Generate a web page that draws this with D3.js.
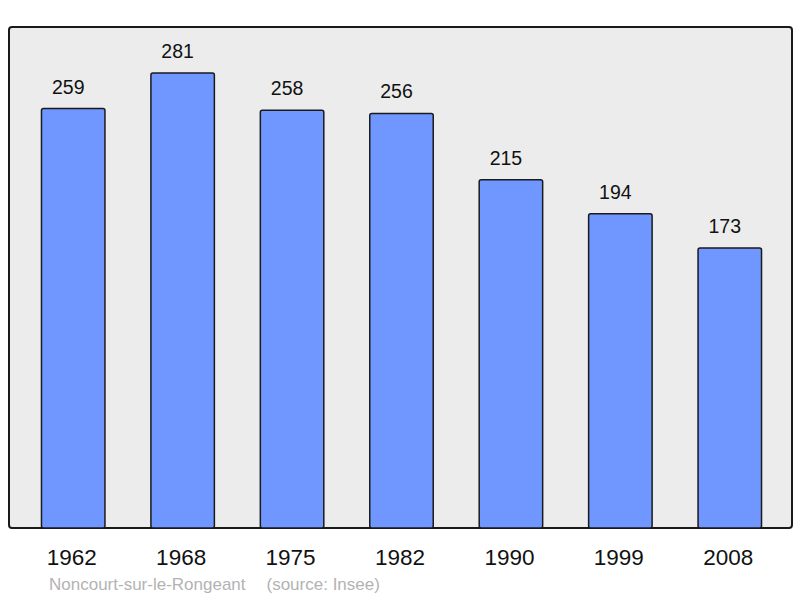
<!DOCTYPE html>
<html><head><meta charset="utf-8">
<script src="https://cdn.jsdelivr.net/npm/d3@7"></script>
<style>body{margin:0;background:#fff}svg{display:block}</style>
</head><body>
<script>
const years = ["1962","1968","1975","1982","1990","1999","2008"];
const population = [259,281,258,256,215,194,173];
const footerName = "Noncourt-sur-le-Rongeant";
const footerSource = "(source: Insee)";

const W = 800, H = 598;
const svg = d3.select("body").append("svg").attr("width", W).attr("height", H);
const font = "Liberation Sans, Arial, sans-serif";

// panel
svg.append("rect").attr("x", 9).attr("y", 27).attr("width", 783).attr("height", 501)
  .attr("rx", 3).attr("fill", "#ececec").attr("stroke", "#1a1a1a").attr("stroke-width", 2);

const x = d3.scaleBand().domain(years).range([18.5, 784.5]).paddingInner(0.42).paddingOuter(0.21);
const y = d3.scaleLinear().domain([0, 281]).range([528, 73]);

svg.append("g").selectAll("rect").data(years).join("rect")
  .attr("x", d => x(d)).attr("width", x.bandwidth())
  .attr("y", (d,i) => y(population[i])).attr("height", (d,i) => y(0) - y(population[i]))
  .attr("rx", 2).attr("fill", "#7097ff").attr("stroke", "#1a1a1a").attr("stroke-width", 1.5);

svg.append("g").selectAll("text").data(years).join("text")
  .attr("x", d => x(d) + x.bandwidth()/2 - 5)
  .attr("y", (d,i) => y(population[i]) - 15)
  .attr("text-anchor", "middle").attr("font-family", font).attr("font-size", 19.5)
  .attr("fill", "#111").text((d,i) => population[i]);

const xAxis = d3.axisBottom(x).tickSize(0).tickPadding(0);
const ax = svg.append("g").attr("transform", "translate(-1.5,528)").call(xAxis);
ax.select(".domain").remove();
ax.selectAll("text").attr("font-family", font).attr("font-size", 22.5).attr("fill", "#111")
  .attr("dy", null).attr("y", 37);

svg.append("text").attr("x", 49).attr("y", 590).attr("font-family", font).attr("font-size", 17)
  .attr("fill", "#b3b3b3").text(footerName);
svg.append("text").attr("x", 266.5).attr("y", 590).attr("font-family", font).attr("font-size", 17)
  .attr("fill", "#b3b3b3").text(footerSource);
</script>
</body></html>
